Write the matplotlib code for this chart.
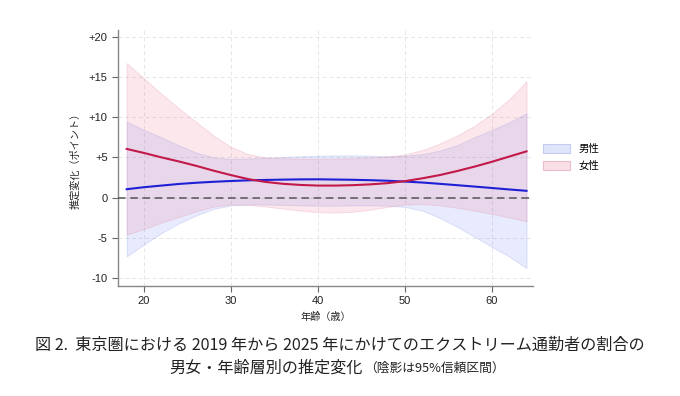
import matplotlib
matplotlib.use("Agg")
import matplotlib.pyplot as plt
from matplotlib.patches import Patch

plt.rcParams['font.family'] = ['Liberation Sans', 'Noto Sans CJK JP', 'DejaVu Sans']

ages = [18, 20, 22, 24, 26, 28, 30, 32, 34, 36, 38, 40, 42, 44, 46, 48, 50, 52, 54, 56, 58, 60, 62, 64]

male_est = [1.05, 1.3, 1.5, 1.7, 1.85, 1.97, 2.07, 2.15, 2.2, 2.24, 2.27, 2.28, 2.25, 2.22, 2.17, 2.1,
            2.0, 1.88, 1.72, 1.55, 1.38, 1.2, 1.02, 0.85]
male_hi = [9.45, 8.4, 7.5, 6.5, 5.6, 5.0, 4.8, 4.85, 4.95, 5.05, 5.15, 5.2, 5.25, 5.25, 5.2, 5.15,
           5.2, 5.4, 5.85, 6.5, 7.5, 8.4, 9.35, 10.5]
male_lo = [-7.3, -5.8, -4.4, -3.2, -2.2, -1.4, -0.95, -0.85, -0.85, -0.9, -0.95, -1.0, -1.0, -0.95,
           -0.95, -1.0, -1.15, -1.6, -2.5, -3.6, -4.85, -6.1, -7.3, -8.75]

female_est = [6.05, 5.55, 5.0, 4.5, 3.95, 3.35, 2.8, 2.3, 1.95, 1.72, 1.58, 1.5, 1.5, 1.55, 1.65, 1.8,
              2.05, 2.4, 2.8, 3.3, 3.85, 4.45, 5.1, 5.75]
female_hi = [16.7, 14.8, 12.9, 11.1, 9.4, 7.7, 6.3, 5.4, 5.0, 4.9, 4.85, 4.85, 4.85, 4.9, 5.0, 5.1,
             5.35, 5.9, 6.7, 7.7, 8.9, 10.4, 12.2, 14.45]
female_lo = [-4.6, -3.9, -3.1, -2.4, -1.7, -1.1, -0.85, -0.9, -1.1, -1.35, -1.6, -1.8, -1.85, -1.75,
             -1.5, -1.15, -0.85, -0.8, -0.95, -1.25, -1.6, -2.0, -2.45, -2.95]

xticks = [20, 30, 40, 50, 60]
yticks = [-10, -5, 0, 5, 10, 15, 20]
ytick_labels = ['-10', '-5', '0', '+5', '+10', '+15', '+20']
legend_labels = ['男性', '女性']

fig = plt.figure(figsize=(6.8, 3.96), dpi=100)
ax = fig.add_axes([0.1735, 0.2778, 0.611, 0.646])

blue = '#1f1fd6'
red = '#c2184a'

ax.fill_between(ages, male_lo, male_hi, facecolor=(0.40, 0.48, 0.95, 0.15),
                edgecolor=(0.55, 0.6, 0.9, 0.25), linewidth=0.7, zorder=2)
ax.fill_between(ages, female_lo, female_hi, facecolor=(0.92, 0.40, 0.52, 0.15),
                edgecolor=(0.9, 0.6, 0.7, 0.3), linewidth=0.7, zorder=2)
ax.plot(ages, male_est, color=blue, lw=1.5, zorder=4)
ax.plot(ages, female_est, color=red, lw=1.5, zorder=4)
ax.axhline(0, color='#555555', lw=1.1, ls=(0, (5, 3)), zorder=3)

ax.set_xlim(17.0, 64.8)
ax.set_ylim(-10.97, 20.8)
ax.set_xticks(xticks)
ax.set_yticks(yticks)
ax.set_yticklabels(ytick_labels)
ax.grid(True, color='#e6e6e6', lw=0.7, ls=(0, (4, 3)), zorder=0)
ax.set_axisbelow(True)
for s in ['top', 'right']:
    ax.spines[s].set_visible(False)
for s in ['left', 'bottom']:
    ax.spines[s].set_color('#888888')
    ax.spines[s].set_linewidth(1.0)
ax.tick_params(axis='both', labelsize=8, color='#666666', length=4, width=0.8, labelcolor='#222222')

ax.set_xlabel('年齢（歳）', fontsize=7.3, labelpad=4, color='#222222')
ax.set_ylabel('推定変化（ポイント）', fontsize=7.3, labelpad=6, color='#222222')

handles = [Patch(facecolor='#e1e5fb', edgecolor='#c3cbf0', lw=0.8),
           Patch(facecolor='#f9dfe6', edgecolor='#ebbdc9', lw=0.8)]
fig.legend(handles, legend_labels, loc='upper left', bbox_to_anchor=(0.785, 0.66),
           frameon=False, fontsize=7.5, handlelength=2.6, handleheight=0.85,
           handletextpad=0.8, labelspacing=0.65)

cap_font = ['Noto Sans CJK JP']
fig.text(0.5, 0.129, '図 2.  東京圏における 2019 年から 2025 年にかけてのエクストリーム通勤者の割合の',
         ha='center', va='center', fontsize=11.6, family=cap_font, color='#222222')
fig.text(0.534, 0.071, '男女・年齢層別の推定変化', ha='right', va='center', fontsize=11.6,
         family=cap_font, color='#222222')
fig.text(0.535, 0.069, '（陰影は95%信頼区間）', ha='left', va='center', fontsize=9.2,
         family=cap_font, color='#222222')

fig.savefig('out.png', dpi=100)
